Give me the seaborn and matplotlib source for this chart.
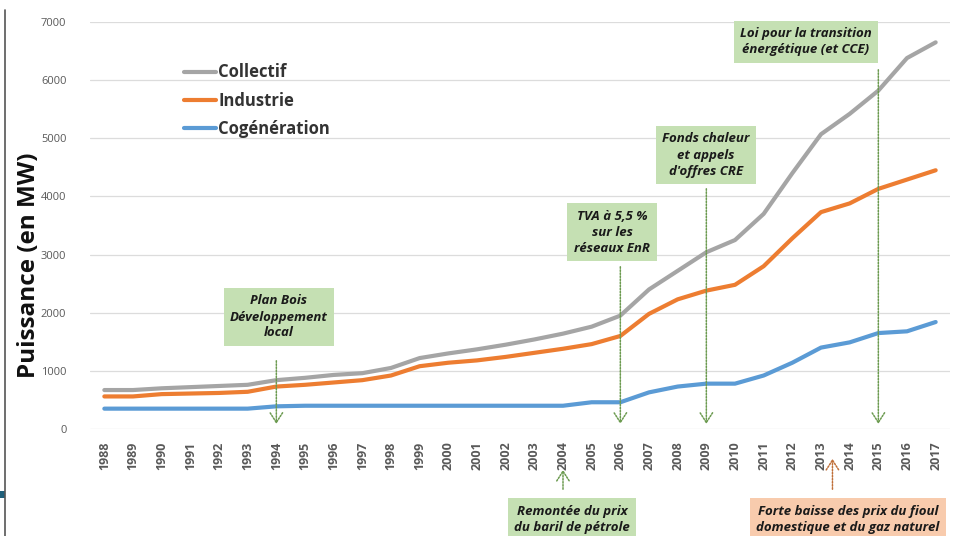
import matplotlib
matplotlib.use("Agg")
import matplotlib.pyplot as plt
import seaborn as sns
import pandas as pd
from matplotlib.lines import Line2D

years = list(range(1988, 2018))
collectif = [670, 670, 700, 720, 740, 760, 840, 880, 930, 960, 1050, 1220, 1300, 1370, 1450,
             1540, 1640, 1760, 1950, 2400, 2720, 3040, 3250, 3700, 4400, 5070, 5420, 5820, 6380, 6650]
industrie = [560, 560, 600, 610, 620, 640, 730, 760, 800, 840, 920, 1080, 1140, 1180, 1240,
             1310, 1380, 1460, 1600, 1980, 2230, 2380, 2480, 2800, 3280, 3730, 3880, 4130, 4290, 4450]
cogeneration = [350, 350, 350, 350, 350, 350, 390, 400, 400, 400, 400, 400, 400, 400, 400,
                400, 400, 460, 460, 630, 730, 780, 780, 920, 1140, 1400, 1490, 1650, 1680, 1840]
series_names = ["Collectif", "Industrie", "Cogénération"]
series_colors = ["#a5a5a5", "#ed7d31", "#5b9bd5"]
y_ticks = [0, 1000, 2000, 3000, 4000, 5000, 6000, 7000]
y_label = "Puissance (en MW)"

rows = []
for name, vals in zip(series_names, [collectif, industrie, cogeneration]):
    for i, (yr, v) in enumerate(zip(years, vals)):
        rows.append({"idx": i, "year": yr, "serie": name, "val": v})
df = pd.DataFrame(rows)

sns.set_style("white")
plt.rcParams["font.family"] = ["Open Sans", "DejaVu Sans"]

W, H = 955, 536
fig = plt.figure(figsize=(W / 100, H / 100), dpi=100)
L, R, T, B = 90, 950, 22, 429
ax = fig.add_axes([L / W, 1 - B / H, (R - L) / W, (B - T) / H])

sns.lineplot(data=df, x="idx", y="val", hue="serie", hue_order=series_names,
             palette=series_colors, linewidth=3.0, ax=ax, legend=False)

ax.set_xlim(-0.5, len(years) - 0.5)
ax.set_ylim(0, 7000)
ax.set_yticks(y_ticks)
ax.set_yticklabels([str(t) for t in y_ticks], color="#595959", fontsize=8)
ax.set_xticks(range(len(years)))
ax.set_xticklabels([str(y) for y in years], rotation=90, color="#595959",
                   fontsize=9, fontweight="bold")
ax.tick_params(axis="y", length=0, pad=17)
ax.tick_params(axis="x", length=0, pad=9)
for s in ax.spines.values():
    s.set_visible(False)
ax.grid(axis="y", color="#dcdcdc", linewidth=0.9)
ax.set_axisbelow(True)
ax.set_xlabel("")
ax.set_ylabel("")
fig.text(29 / W, 1 - 265 / H, y_label, rotation=90, ha="center", va="center",
         fontsize=17.5, fontweight="bold", color="#111111")

handles = [Line2D([0], [0], color=c, lw=3.0) for c in series_colors]
leg = ax.legend(handles, series_names, loc="upper left", bbox_to_anchor=(0.092, 0.935),
                frameon=False, handlelength=1.9, handletextpad=0.15, labelspacing=0.62,
                prop={"size": 12, "weight": "bold"})
for t in leg.get_texts():
    t.set_color("#333333")

green = "#c5e0b3"
orange = "#f8cbad"
arrow_col = "#6b9a4f"

def ax_frac(px, py):
    return ((px - L) / (R - L), (B - py) / (B - T))

def box(text, cx, cy, fc):
    fx, fy = ax_frac(cx, cy)
    ax.text(fx, fy, text, transform=ax.transAxes, ha="center", va="center",
            fontsize=9.5, fontweight="bold", fontstyle="italic", color="#1a1a1a",
            linespacing=1.3, zorder=5, clip_on=False,
            bbox=dict(boxstyle="square,pad=0.5", fc=fc, ec="none"))

def down_arrow(xpos, ytop_px, col=arrow_col):
    y0 = (B - ytop_px) / (B - T) * 7000
    ax.annotate("", xy=(xpos, 40), xytext=(xpos, y0), annotation_clip=False,
                arrowprops=dict(arrowstyle="->,head_length=0.7,head_width=0.45",
                                linestyle=(0, (1, 1)), color=col, lw=1.1))

def up_arrow(xpos, ytop_px, ybot_px, col=arrow_col):
    ax.annotate("", xy=(xpos, (B - ytop_px) / (B - T) * 7000),
                xytext=(xpos, (B - ybot_px) / (B - T) * 7000), annotation_clip=False,
                arrowprops=dict(arrowstyle="->,head_length=0.7,head_width=0.45",
                                linestyle=(0, (1, 1)), color=col, lw=1.1))

box("Plan Bois\nDéveloppement\nlocal", 279, 317, green)
down_arrow(years.index(1994), 358)
box("TVA à 5,5 %\nsur les\nréseaux EnR", 612, 232, green)
down_arrow(years.index(2006), 264)
box("Fonds chaleur\net appels\nd'offres CRE", 706, 155, green)
down_arrow(years.index(2009), 186)
box("Loi pour la transition\nénergétique (et CCE)", 806, 42, green)
down_arrow(years.index(2015), 67)

box("Remontée du prix\ndu baril de pétrole", 572, 519, green)
up_arrow(years.index(2004), 467, 492)
box("Forte baisse des prix du fioul\ndomestique et du gaz naturel", 848, 519, orange)
up_arrow(years.index(2013) + 0.4, 456, 492, col="#c0703a")

# slide frame remnants
fig.add_artist(Line2D([5 / W, 5 / W], [0, 1 - 10 / H], transform=fig.transFigure,
                      color="#555555", lw=1.2))
fig.add_artist(plt.Rectangle((0, 1 - 498 / H), 5 / W, 7 / H, transform=fig.transFigure,
                             color="#1f5f7a", lw=0))

fig.savefig("out.png", dpi=100)
